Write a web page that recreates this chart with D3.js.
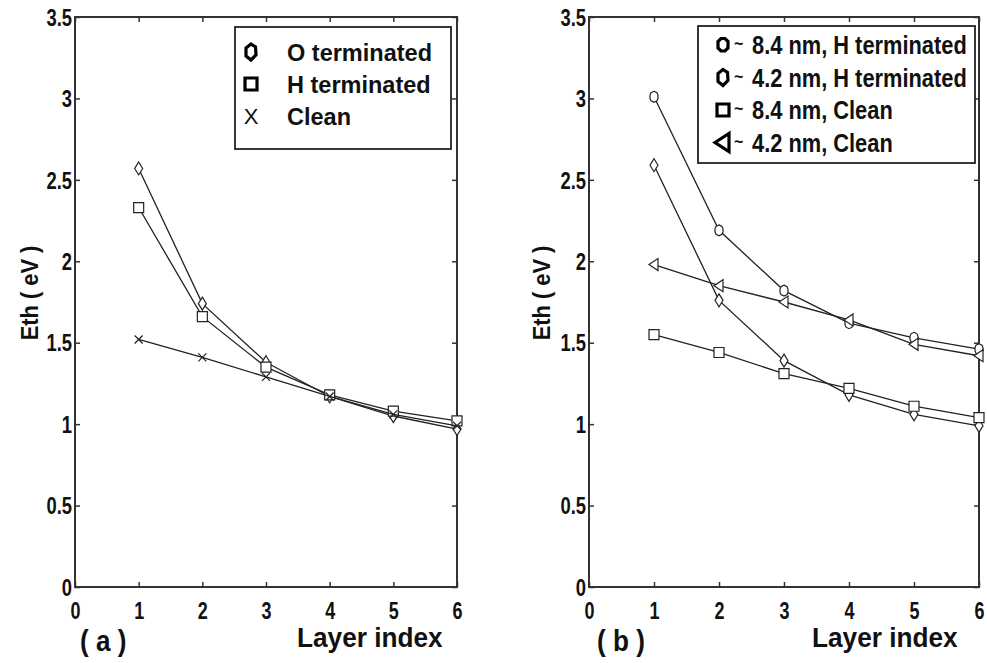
<!DOCTYPE html>
<html>
<head>
<meta charset="utf-8">
<script src="https://cdn.jsdelivr.net/npm/d3@7"></script>
<style>
  body { margin: 0; background: #fff; }
  svg { display: block; }
  .narrow { font-family: 'Liberation Sans Narrow', 'Arial Narrow', 'Liberation Sans', Arial, sans-serif; font-weight: bold; }
  .wide { font-family: 'Liberation Sans', Arial, sans-serif; font-weight: bold; }
</style>
</head>
<body>
<div id="here"></div>
<script>
// DATA
const layers = [1, 2, 3, 4, 5, 6];
const xTicks = [0, 1, 2, 3, 4, 5, 6];
const yTicks = [0, 0.5, 1, 1.5, 2, 2.5, 3, 3.5];

// panel (a)
const oTerminated = [2.57, 1.74, 1.38, 1.17, 1.05, 0.97];
const hTerminated = [2.33, 1.66, 1.35, 1.18, 1.08, 1.02];
const clean = [1.52, 1.41, 1.29, 1.17, 1.06, 0.99];

// panel (b)
const h84 = [3.01, 2.19, 1.82, 1.62, 1.53, 1.46];
const h42 = [2.59, 1.76, 1.39, 1.18, 1.06, 0.99];
const clean84 = [1.55, 1.44, 1.31, 1.22, 1.11, 1.04];
const clean42 = [1.98, 1.85, 1.75, 1.64, 1.49, 1.42];

const legendA = ["O terminated", "H terminated", "Clean"];
const legendB = ["8.4 nm, H terminated", "4.2 nm, H terminated", "8.4 nm, Clean", "4.2 nm, Clean"];

const width = 987, height = 663;

const svg = d3.select("#here")
  .append("svg")
  .attr("width", width)
  .attr("height", height);

// squeeze text horizontally (no narrow font installed)
function condense(sel, factor) {
  sel.each(function() {
    const len = this.getComputedTextLength();
    d3.select(this)
      .attr("textLength", len * factor)
      .attr("lengthAdjust", "spacingAndGlyphs");
  });
}

// marker shapes
const shapes = {
  diamond: "M0,-6.5L4,0L0,6.5L-4,0Z",
  square: "M-5,-5H5V5H-5Z",
  cross: "M-4,-4L4,4M-4,4L4,-4",
  circle: "M0,-5.5L3,-4L4,-1.5L4,1.5L3,4L0,5.5L-3,4L-4,1.5L-4,-1.5L-3,-4Z",
  triLeft: "M-5,0L4,-6L4,6Z"
};
const legendShapes = {
  hexagon: "M0,-8L4.5,-5L5,3L0,8L-5,4L-5,-4Z",
  circle: "M-2,-6.5L2,-6.5L5,-3.5L5,3L2,6L-2,6L-5,3L-5,-3.5Z",
  square: "M-6,-6H6V6H-6Z",
  triLeft: "M-8,0L6,-9L6,9Z"
};

function drawPanel(p) {
  const g = svg.append("g");

  const x = d3.scaleLinear().domain([0, 6]).range([p.left, p.right]);
  const y = d3.scaleLinear().domain([0, 3.5]).range([p.bottom, p.top]);

  // frame
  g.append("rect")
    .attr("x", p.left).attr("y", p.top)
    .attr("width", p.right - p.left).attr("height", p.bottom - p.top)
    .attr("fill", "none").attr("stroke", "#333").attr("stroke-width", 2);

  // inward ticks on all four sides
  const bottomAxis = g.append("g")
    .attr("transform", `translate(0, ${p.bottom})`)
    .call(d3.axisBottom(x).tickValues(xTicks).tickSize(-5).tickFormat(d3.format("d")));
  const topAxis = g.append("g")
    .attr("transform", `translate(0, ${p.top})`)
    .call(d3.axisTop(x).tickValues(xTicks).tickSize(-5).tickFormat(""));
  const leftAxis = g.append("g")
    .attr("transform", `translate(${p.left}, 0)`)
    .call(d3.axisLeft(y).tickValues(yTicks).tickSize(-5).tickFormat(d3.format("")));
  const rightAxis = g.append("g")
    .attr("transform", `translate(${p.right}, 0)`)
    .call(d3.axisRight(y).tickValues(yTicks).tickSize(-5).tickFormat(""));

  [bottomAxis, topAxis, leftAxis, rightAxis].forEach(function(a) {
    a.select(".domain").remove();
    a.selectAll("line").attr("stroke", "#333").attr("stroke-width", 1.5);
  });

  bottomAxis.selectAll("text")
    .attr("class", "narrow")
    .attr("font-size", 23)
    .attr("fill", "#111")
    .attr("y", 16)
    .call(condense, 0.78);
  leftAxis.selectAll("text")
    .attr("class", "narrow")
    .attr("font-size", 23)
    .attr("fill", "#111")
    .attr("x", -3)
    .attr("dy", "0.36em")
    .call(condense, 0.8);

  // series
  const line = d3.line()
    .x(function(d) { return x(d[0]); })
    .y(function(d) { return y(d[1]); });

  p.series.forEach(function(s) {
    const pts = layers.map(function(l, i) { return [l, s.values[i]]; });
    g.append("path")
      .datum(pts)
      .attr("d", line)
      .attr("fill", "none")
      .attr("stroke", "#222")
      .attr("stroke-width", 1.3);

    g.selectAll(null)
      .data(pts)
      .enter()
      .append("path")
      .attr("d", shapes[s.shape])
      .attr("transform", function(d) { return `translate(${x(d[0])}, ${y(d[1])})`; })
      .attr("fill", s.shape === "cross" ? "none" : "#fff")
      .attr("stroke", "#222")
      .attr("stroke-width", 1.2);
  });

  // axis labels
  g.append("text")
    .attr("class", "wide")
    .attr("font-size", 23)
    .attr("fill", "#111")
    .attr("text-anchor", "middle")
    .attr("transform", `translate(${p.yLabelX}, 293) rotate(-90)`)
    .text("Eth ( eV )")
    .call(condense, 0.95);

  g.append("text")
    .attr("class", "wide")
    .attr("font-size", 27)
    .attr("fill", "#111")
    .attr("x", p.xLabelX)
    .attr("y", 647)
    .text("Layer index")
    .call(condense, 0.97);

  g.append("text")
    .attr("class", "wide")
    .attr("font-size", 29)
    .attr("fill", "#111")
    .attr("x", p.tagX)
    .attr("y", 651)
    .text(p.tag)
    .call(condense, 0.9);

  // legend
  const lg = g.append("g");
  lg.append("rect")
    .attr("x", p.legend.x).attr("y", p.legend.y)
    .attr("width", p.legend.w).attr("height", p.legend.h)
    .attr("fill", "#fff").attr("stroke", "#222").attr("stroke-width", 1.8);

  p.legend.items.forEach(function(it, i) {
    const cy = p.legend.firstY + i * p.legend.step;
    if (it.shape === "X") {
      lg.append("text")
        .attr("class", "wide")
        .attr("font-size", 22)
        .attr("text-anchor", "middle")
        .attr("x", p.legend.markX)
        .attr("y", cy + 8)
        .attr("fill", "#111")
        .style("font-weight", "normal")
        .text("X");
    } else {
      lg.append("path")
        .attr("d", legendShapes[it.shape])
        .attr("transform", `translate(${p.legend.markX}, ${cy})`)
        .attr("fill", "#fff")
        .attr("stroke", "#000")
        .attr("stroke-width", 3.2);
    }
    if (p.legend.tilde) {
      lg.append("text")
        .attr("class", "wide")
        .attr("font-size", 16)
        .attr("fill", "#111")
        .attr("x", p.legend.markX + 11)
        .attr("y", cy + 4)
        .text("~");
    }
    // scale the label horizontally so its box stays true
    lg.append("text")
      .attr("class", "wide")
      .attr("font-size", p.legend.size)
      .attr("fill", "#111")
      .attr("transform", `translate(${p.legend.textX}, ${cy + p.legend.size * 0.36}) scale(${p.legend.squeeze}, 1)`)
      .text(it.label);
  });
}

drawPanel({
  left: 75, right: 457, top: 17, bottom: 587,
  yLabelX: 38, xLabelX: 297, tagX: 80, tag: "( a )",
  series: [
    { values: oTerminated, shape: "diamond" },
    { values: hTerminated, shape: "square" },
    { values: clean, shape: "cross" }
  ],
  legend: {
    x: 235, y: 27, w: 216, h: 122, markX: 251, textX: 287, firstY: 52, step: 32,
    size: 24, squeeze: 0.98, tilde: false,
    items: [
      { label: legendA[0], shape: "hexagon" },
      { label: legendA[1], shape: "square" },
      { label: legendA[2], shape: "X" }
    ]
  }
});

drawPanel({
  left: 589, right: 979, top: 17, bottom: 587,
  yLabelX: 550, xLabelX: 812, tagX: 597, tag: "( b )",
  series: [
    { values: h84, shape: "circle" },
    { values: h42, shape: "diamond" },
    { values: clean84, shape: "square" },
    { values: clean42, shape: "triLeft" }
  ],
  legend: {
    x: 698, y: 26, w: 277, h: 137, markX: 723, textX: 752, firstY: 45, step: 32.5,
    size: 26, squeeze: 0.84, tilde: true,
    items: [
      { label: legendB[0], shape: "circle" },
      { label: legendB[1], shape: "hexagon" },
      { label: legendB[2], shape: "square" },
      { label: legendB[3], shape: "triLeft" }
    ]
  }
});
</script>
</body>
</html>
